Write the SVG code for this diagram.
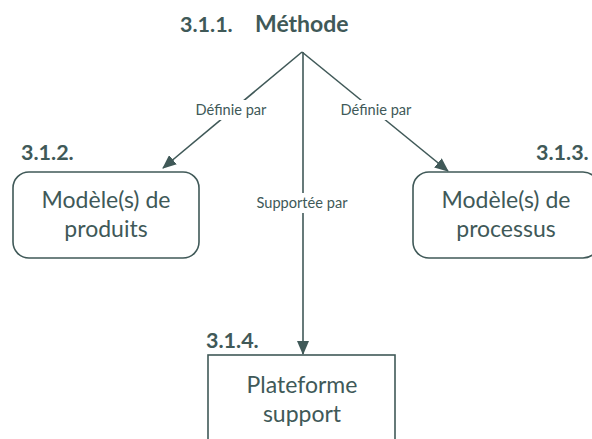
<svg xmlns="http://www.w3.org/2000/svg" width="592" height="439" viewBox="0 0 592 439">
<defs>
<style>
.t{font-family:Lato,"Open Sans","Liberation Sans",sans-serif;fill:#405958}
.node{fill:#fff;stroke:#405958;stroke-width:1.6}
.lab{font-size:14.6px}
.big{font-size:23px}
.num{font-size:21.5px;font-weight:bold}
.ttl{font-size:23px;font-weight:bold}
.ln{stroke:#405958;stroke-width:1.6;fill:none}
</style>
<marker id="ah2" viewBox="0 0 14 12" refX="13" refY="6" markerWidth="14" markerHeight="12" markerUnits="userSpaceOnUse" orient="auto">
<path d="M0,0 L14,6 L0,12 z" fill="#405958"/>
</marker>
</defs>
<rect width="592" height="439" fill="#fff"/>
<g id="methode">
<text class="t num" x="180" y="32">3.1.1.</text>
<text class="t ttl" x="255" y="32">Méthode</text>
</g>
<g id="connectors">
<line class="ln" x1="302" y1="52" x2="163" y2="168" marker-end="url(#ah2)"/>
<line class="ln" x1="302" y1="52" x2="448" y2="171" marker-end="url(#ah2)"/>
<line class="ln" x1="303" y1="52" x2="303" y2="354" marker-end="url(#ah2)"/>
<rect x="191" y="100" width="80" height="20" fill="#fff"/>
<rect x="336" y="100" width="81" height="20" fill="#fff"/>
<rect x="251" y="193" width="102" height="20" fill="#fff"/>
<text class="t lab" x="231" y="115" text-anchor="middle">Définie par</text>
<text class="t lab" x="376" y="115" text-anchor="middle">Définie par</text>
<text class="t lab" x="302" y="208" text-anchor="middle">Supportée par</text>
</g>
<g id="produits">
<text class="t num" x="21" y="160">3.1.2.</text>
<rect class="node" x="13" y="172" width="186" height="86" rx="16"/>
<text class="t big" x="106" y="208" text-anchor="middle">Modèle(s) de</text>
<text class="t big" x="106" y="237" text-anchor="middle">produits</text>
</g>
<g id="processus">
<text class="t num" x="536" y="160">3.1.3.</text>
<rect class="node" x="413" y="172" width="186" height="86" rx="16"/>
<text class="t big" x="506" y="208" text-anchor="middle">Modèle(s) de</text>
<text class="t big" x="506" y="237" text-anchor="middle">processus</text>
</g>
<g id="plateforme">
<text class="t num" x="206" y="348">3.1.4.</text>
<rect class="node" x="208" y="355" width="187" height="100"/>
<text class="t big" x="302" y="393" text-anchor="middle">Plateforme</text>
<text class="t big" x="302" y="422" text-anchor="middle">support</text>
</g>
</svg>
